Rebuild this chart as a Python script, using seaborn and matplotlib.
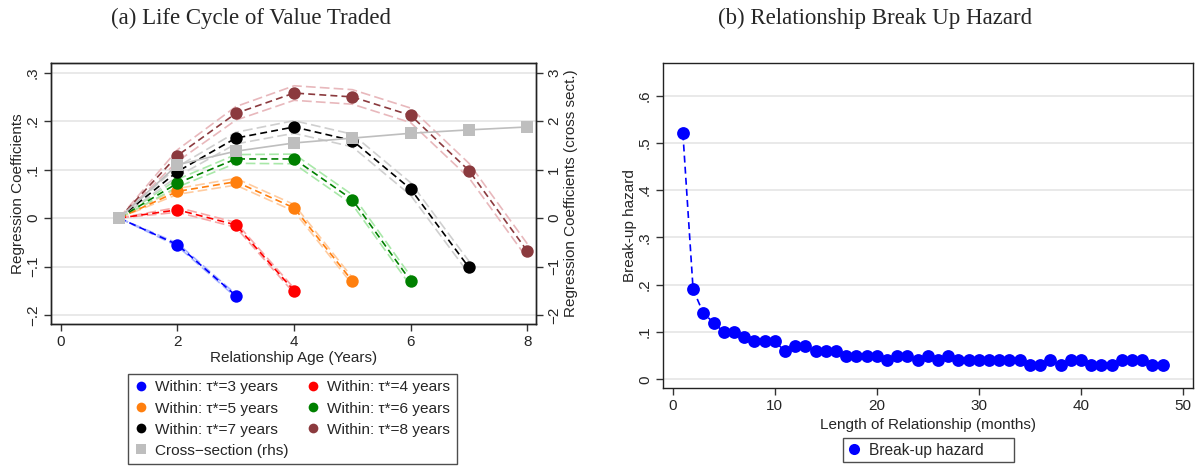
import matplotlib
matplotlib.use("Agg")
import matplotlib.pyplot as plt
from matplotlib.lines import Line2D
import seaborn as sns
import pandas as pd

# ---------------- data ----------------
age = [1, 2, 3, 4, 5, 6, 7, 8]
tau3 = [0, -0.055, -0.160]
tau4 = [0, 0.017, -0.014, -0.150]
tau5 = [0, 0.055, 0.075, 0.021, -0.130]
tau6 = [0, 0.072, 0.122, 0.122, 0.038, -0.130]
tau7 = [0, 0.096, 0.165, 0.188, 0.160, 0.060, -0.102]
tau8 = [0, 0.129, 0.216, 0.258, 0.250, 0.212, 0.098, -0.068]
# half-widths of the confidence bands
ci3 = [0, 0.003, 0.003]
ci4 = [0, 0.005, 0.005, 0.005]
ci5 = [0, 0.006, 0.007, 0.007, 0.007]
ci6 = [0, 0.008, 0.009, 0.010, 0.010, 0.010]
ci7 = [0, 0.010, 0.012, 0.013, 0.013, 0.013, 0.013]
ci8 = [0, 0.012, 0.014, 0.015, 0.015, 0.015, 0.015, 0.015]
cross_section = [0, 1.10, 1.38, 1.55, 1.65, 1.75, 1.82, 1.88]

series_labels = ["Within: \u03c4*=3 years", "Within: \u03c4*=4 years",
                 "Within: \u03c4*=5 years", "Within: \u03c4*=6 years",
                 "Within: \u03c4*=7 years", "Within: \u03c4*=8 years"]
cross_label = "Cross\u2212section (rhs)"

months = list(range(1, 49))
hazard = [0.52, 0.19, 0.14, 0.12, 0.10, 0.10, 0.09, 0.08, 0.08, 0.08,
          0.06, 0.07, 0.07, 0.06, 0.06, 0.06, 0.05, 0.05, 0.05, 0.05,
          0.04, 0.05, 0.05, 0.04, 0.05, 0.04, 0.05, 0.04, 0.04, 0.04,
          0.04, 0.04, 0.04, 0.04, 0.03, 0.03, 0.04, 0.03, 0.04, 0.04,
          0.03, 0.03, 0.03, 0.04, 0.04, 0.04, 0.03, 0.03]

left_yticks = [-0.2, -0.1, 0, 0.1, 0.2, 0.3]
left_yticklabels = ["\u2212.2", "\u2212.1", "0", ".1", ".2", ".3"]
right_yticks = [-2, -1, 0, 1, 2, 3]
right_yticklabels = ["\u22122", "\u22121", "0", "1", "2", "3"]
haz_yticks = [0, 0.1, 0.2, 0.3, 0.4, 0.5, 0.6]
haz_yticklabels = ["0", ".1", ".2", ".3", ".4", ".5", ".6"]

# ---------------- style ----------------
sns.set_theme(style="white")
plt.rcParams["font.family"] = ["Liberation Sans", "DejaVu Sans"]
plt.rcParams["lines.scale_dashes"] = False
plt.rcParams["axes.linewidth"] = 1.0

colors = ["#0000FF", "#FF0000", "#FF7F0E", "#008000", "#000000", "#8B3A3E"]
band_colors = ["#A8B4FF", "#F7A8A8", "#FFCCA0", "#A8E8A8", "#CFCFCF", "#E8B8BC"]
gray = "#BEBEBE"

fig = plt.figure(figsize=(11.99, 4.68), dpi=100)
axL = fig.add_axes([51 / 1199, 1 - 324 / 468, 485 / 1199, 261 / 468])
axR = fig.add_axes([663 / 1199, 1 - 388 / 468, 530 / 1199, 325 / 468])

fs = 11

# ---------------- left panel ----------------
all_y = [tau3, tau4, tau5, tau6, tau7, tau8]
all_ci = [ci3, ci4, ci5, ci6, ci7, ci8]
for k in range(len(all_y)):
    yv = all_y[k]
    cv = all_ci[k]
    xv = age[:len(yv)]
    lo = [a - b for a, b in zip(yv, cv)]
    hi = [a + b for a, b in zip(yv, cv)]
    for band in (lo, hi):
        sns.lineplot(x=xv, y=band, ax=axL, color=band_colors[k], lw=1.2,
                     linestyle=(0, (7, 3)), zorder=2,
                     estimator=None, sort=False)
for k in range(len(all_y)):
    yv = all_y[k]
    xv = age[:len(yv)]
    sns.lineplot(x=xv, y=yv, ax=axL, color=colors[k], lw=1.2,
                 linestyle=(0, (5, 3)), zorder=3, estimator=None, sort=False)
    sns.scatterplot(x=xv[1:], y=yv[1:], ax=axL, color=colors[k], s=80,
                    linewidth=0, zorder=4)

axL.set_xlim(-0.17, 8.15)
axL.set_ylim(-0.2186, 0.32)
axL.set_xticks([0, 2, 4, 6, 8])
axL.set_xticklabels(["0", "2", "4", "6", "8"], fontsize=fs)
axL.set_yticks(left_yticks)
axL.set_yticklabels(left_yticklabels, fontsize=fs, rotation=90, va="center")
axL.grid(axis="y", color="#E3E3E3", lw=1.1)
axL.grid(axis="x", visible=False)
axL.tick_params(axis="both", direction="out", length=5, width=1, color="#333333",
                pad=3, left=True, bottom=True)
axL.set_xlabel("Relationship Age (Years)", fontsize=fs)
axL.set_ylabel("Regression Coefficients", fontsize=fs)
axL.yaxis.set_label_coords(-0.0535, 0.5)
axL.xaxis.set_label_coords(0.5, -0.103)
for sp in axL.spines.values():
    sp.set_color("#222222")

axT = axL.twinx()
axT.set_ylim(-2.186, 3.2)
sns.lineplot(x=age, y=cross_section, ax=axT, color=gray, lw=1.2, zorder=3,
             estimator=None, sort=False)
sns.scatterplot(x=age, y=cross_section, ax=axT, color=gray, marker="s",
                s=80, linewidth=0, zorder=4)
axT.set_yticks(right_yticks)
axT.set_yticklabels(right_yticklabels, fontsize=fs, rotation=90, va="center")
axT.tick_params(axis="y", direction="out", length=5, width=1, color="#333333",
                pad=3, right=True)
axT.set_ylabel("Regression Coefficients (cross sect.)", fontsize=fs, rotation=90)
axT.yaxis.set_label_coords(1.0576, 0.5)
axT.grid(False)
for sp in axT.spines.values():
    sp.set_color("#222222")

handles = []
for k in range(6):
    handles.append(Line2D([], [], marker="o", color=colors[k], lw=0, ms=7,
                          markeredgewidth=0, label=series_labels[k]))
handles.append(Line2D([], [], marker="s", color=gray, lw=0, ms=7,
                      markeredgewidth=0, label=cross_label))
col1 = [handles[0], handles[2], handles[4], handles[6]]
col2 = [handles[1], handles[3], handles[5]]
legL = fig.legend(handles=col1 + col2, loc="upper left", ncol=2,
                  bbox_to_anchor=(128 / 1199, 1 - 374 / 468), fontsize=11.1,
                  frameon=True, fancybox=False, edgecolor="#222222",
                  handlelength=0.8, handletextpad=0.5, columnspacing=1.25,
                  labelspacing=0.46, borderpad=0.42, borderaxespad=0)
legL.get_frame().set_linewidth(1.0)

# ---------------- right panel ----------------
df = pd.DataFrame({"month": months, "hazard": hazard})
sns.lineplot(data=df, x="month", y="hazard", ax=axR, color="#0000FF", lw=1.2,
             linestyle=(0, (5, 3)), zorder=3, estimator=None, sort=False)
sns.scatterplot(data=df, x="month", y="hazard", ax=axR, color="#0000FF", s=85,
                linewidth=0, zorder=4)
axR.set_xlim(-0.95, 50.98)
axR.set_ylim(-0.0184, 0.669)
axR.set_xticks([0, 10, 20, 30, 40, 50])
axR.set_xticklabels(["0", "10", "20", "30", "40", "50"], fontsize=fs)
axR.set_yticks(haz_yticks)
axR.set_yticklabels(haz_yticklabels, fontsize=fs, rotation=90, va="center")
axR.grid(axis="y", color="#E3E3E3", lw=1.1)
axR.grid(axis="x", visible=False)
axR.tick_params(axis="both", direction="out", length=5, width=1, color="#333333",
                pad=3, left=True, bottom=True)
axR.set_xlabel("Length of Relationship (months)", fontsize=fs)
axR.set_ylabel("Break-up hazard", fontsize=fs)
axR.yaxis.set_label_coords(-0.049, 0.5)
axR.xaxis.set_label_coords(0.5, -0.093)
for sp in axR.spines.values():
    sp.set_color("#222222")

hR = [Line2D([], [], marker="o", color="#0000FF", lw=0, ms=8,
             markeredgewidth=0, label="Break-up hazard      ")]
legR = fig.legend(handles=hR, loc="upper left",
                  bbox_to_anchor=(843 / 1199, 1 - 438 / 468), fontsize=11.2,
                  frameon=True, fancybox=False, edgecolor="#222222",
                  handlelength=0.8, handletextpad=0.6, borderpad=0.3,
                  borderaxespad=0)
legR.get_frame().set_linewidth(1.0)

# ---------------- titles ----------------
fig.text(251 / 1199, 1 - 18 / 468, "(a) Life Cycle of Value Traded",
         family=["Liberation Serif", "DejaVu Serif"], fontsize=16.5,
         ha="center", va="center")
fig.text(875 / 1199, 1 - 18 / 468, "(b) Relationship Break Up Hazard",
         family=["Liberation Serif", "DejaVu Serif"], fontsize=16.5,
         ha="center", va="center")

fig.savefig("out.png", dpi=100)
